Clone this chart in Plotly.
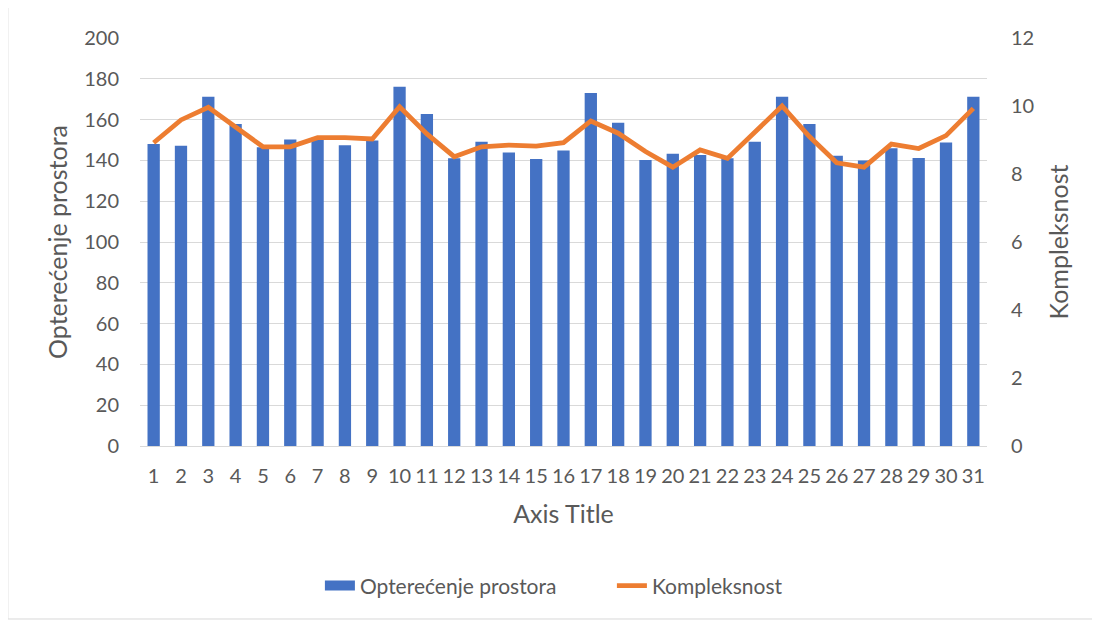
import plotly.graph_objects as go

days = list(range(1, 32))
opterecenje = [148, 147.2, 171.2, 157.8, 146.5, 150.3, 150, 147.4, 149.7, 176.1,
               162.7, 141, 149.2, 143.9, 140.7, 144.8, 173, 158.5, 140.2, 143.3,
               142.6, 141, 149.2, 171.2, 157.8, 142.3, 139.9, 146, 141.2, 148.8, 171.2]
kompleksnost = [8.92, 9.59, 9.96, 9.39, 8.80, 8.80, 9.07, 9.07, 9.03, 9.98,
                9.18, 8.51, 8.80, 8.85, 8.82, 8.92, 9.56, 9.20, 8.66, 8.20,
                8.71, 8.46, 9.24, 10.0, 9.10, 8.33, 8.20, 8.88, 8.75, 9.13, 9.93]

left_ticks = list(range(0, 201, 20))
right_ticks = list(range(0, 13, 2))

FONT = "Lato"
GREY = "#595959"
BLUE = "#4472C4"
ORANGE = "#ED7D31"

fig = go.Figure()
fig.add_trace(go.Bar(x=days, y=opterecenje, name="Opterećenje prostora",
                     marker=dict(color=BLUE, line=dict(width=0)), showlegend=False,
                     legendgroup="a"))
# legend proxy (wide rectangle look)
fig.add_trace(go.Scatter(x=[None], y=[None], name="Opterećenje prostora", mode="lines",
                         line=dict(color=BLUE, width=10), legendgroup="a"))
fig.add_trace(go.Scatter(x=days, y=kompleksnost, name="Kompleksnost", yaxis="y2",
                         mode="lines", line=dict(color=ORANGE, width=4.8)))

fig.update_layout(
    width=1100, height=621,
    margin=dict(l=132, r=121, t=30, b=183),
    paper_bgcolor="white", plot_bgcolor="white",
    font=dict(family=FONT, size=20, color=GREY),
    bargap=0.55,
    showlegend=True,
    legend=dict(orientation="h", x=0.2124, xanchor="left", y=-0.343, yanchor="middle",
                font=dict(size=21, color=GREY), tracegroupgap=0,
                entrywidth=247, entrywidthmode="pixels"),
    xaxis=dict(tickmode="array", tickvals=days, ticktext=[str(d) for d in days],
               range=[0.5, 31.5], showgrid=False, showline=False, ticks="",
               ticklabelstandoff=16,
               title=dict(text="Axis Title", font=dict(size=25, color=GREY), standoff=19),
               tickfont=dict(size=20, color=GREY)),
    yaxis=dict(range=[0, 200], tickvals=left_ticks, showgrid=True, gridcolor="#D9D9D9",
               gridwidth=1, zeroline=True, zerolinecolor="#D9D9D9", zerolinewidth=1,
               ticks="", ticklabelstandoff=20,
               title=dict(text="Opterećenje prostora", font=dict(size=25, color=GREY), standoff=9),
               tickfont=dict(size=20, color=GREY)),
    yaxis2=dict(range=[0, 12], tickvals=right_ticks, overlaying="y", side="right",
                showgrid=False, zeroline=False, ticks="", ticklabelstandoff=23,
                title=dict(text="Kompleksnost", font=dict(size=25, color=GREY), standoff=17),
                tickfont=dict(size=20, color=GREY)),
    shapes=[dict(type="rect", xref="paper", yref="paper", x0=-0.156, x1=1.129,
                 y0=-0.424, y1=1.076, line=dict(color="#D9D9D9", width=1),
                 fillcolor="rgba(0,0,0,0)", layer="below")],
)

fig.write_html("out.html")
